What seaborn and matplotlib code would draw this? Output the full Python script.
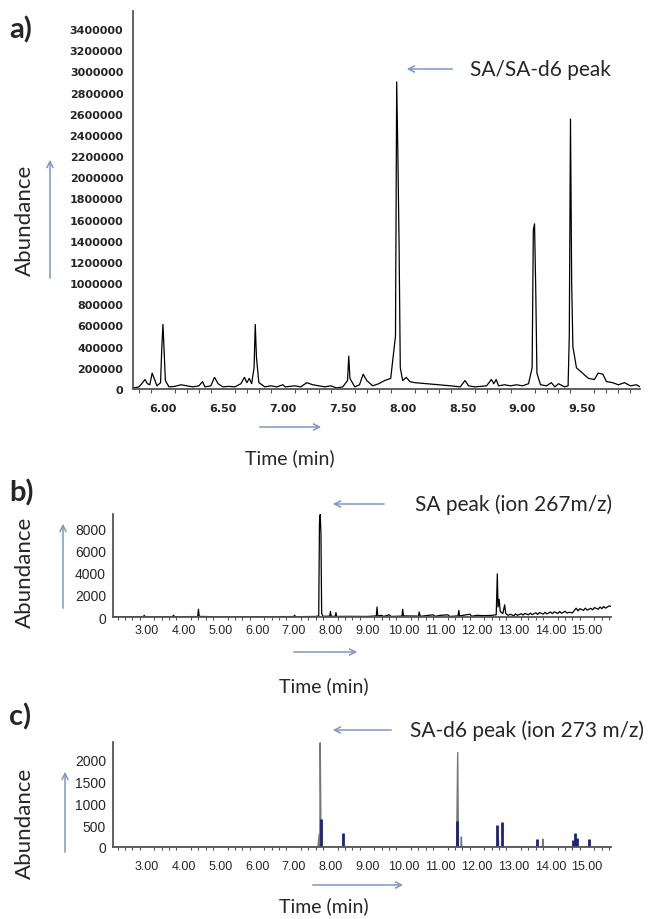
import numpy as np
import pandas as pd
import matplotlib
matplotlib.use("Agg")
import matplotlib.pyplot as plt
from matplotlib.patches import FancyArrowPatch
from matplotlib.ticker import MultipleLocator, FormatStrFormatter
import seaborn as sns

# ---- panel a: total ion chromatogram (time min, abundance) ----
a_time = [5.75, 5.80, 5.83, 5.85, 5.87, 5.89, 5.91, 5.93, 5.95, 5.98, 5.99, 6.00, 6.01, 6.02,
          6.05, 6.10, 6.15, 6.20, 6.25, 6.30, 6.33, 6.35, 6.40, 6.43, 6.46, 6.50, 6.55, 6.60,
          6.65, 6.68, 6.70, 6.72, 6.74, 6.76, 6.77, 6.78, 6.80, 6.85, 6.90, 6.95, 7.00, 7.02,
          7.10, 7.15, 7.20, 7.25, 7.30, 7.35, 7.40, 7.45, 7.50, 7.54, 7.55, 7.56, 7.60, 7.64,
          7.67, 7.70, 7.75, 7.80, 7.85, 7.90, 7.94, 7.95, 7.96, 7.97, 7.98, 8.00, 8.03, 8.06,
          8.10, 8.20, 8.30, 8.40, 8.48, 8.52, 8.55, 8.60, 8.70, 8.74, 8.76, 8.78, 8.80, 8.85,
          8.90, 8.95, 9.00, 9.05, 9.08, 9.09, 9.10, 9.11, 9.12, 9.15, 9.20, 9.24, 9.27, 9.30,
          9.35, 9.38, 9.39, 9.40, 9.41, 9.42, 9.45, 9.50, 9.55, 9.60, 9.63, 9.67, 9.70, 9.75,
          9.80, 9.85, 9.90, 9.95, 9.98]
a_abund = [10, 20, 60, 90, 50, 40, 150, 90, 30, 60, 380, 610, 350, 80,
           20, 25, 40, 30, 20, 30, 70, 20, 30, 110, 50, 20, 25, 20,
           50, 110, 60, 100, 50, 200, 610, 300, 60, 20, 30, 20, 40, 20,
           30, 20, 60, 40, 30, 20, 30, 10, 20, 80, 310, 100, 20, 40,
           140, 80, 30, 50, 80, 100, 500, 2900, 2200, 1350, 200, 80, 110, 70,
           60, 50, 40, 30, 20, 80, 30, 20, 30, 90, 50, 90, 30, 40,
           30, 40, 30, 50, 200, 1500, 1560, 950, 150, 40, 30, 60, 20, 50,
           20, 30, 500, 2550, 1000, 400, 200, 150, 100, 90, 150, 140, 70, 60,
           40, 60, 30, 40, 20]
a_abund = [v * 1000 for v in a_abund]

# ---- panel b: SA, ion 267 m/z ----
b_time = [2.07, 2.50, 2.90, 2.92, 2.95, 3.50, 3.70, 3.72, 3.75, 4.38, 4.40, 4.42, 5.00, 6.00,
          7.00, 7.02, 7.05, 7.60, 7.68, 7.70, 7.72, 7.74, 7.76, 7.80, 7.98, 8.00, 8.02, 8.13,
          8.15, 8.17, 8.50, 9.00, 9.25, 9.27, 9.29, 9.40, 9.45, 9.60, 9.65, 9.95, 9.97, 9.99,
          10.40, 10.42, 10.45, 10.80, 10.85, 11.00, 11.20, 11.25, 11.48, 11.50, 11.52, 11.80,
          11.85, 12.00, 12.20, 12.40, 12.52, 12.55, 12.57, 12.60, 12.63, 12.70, 12.75, 12.78,
          12.85, 12.90, 13.00, 13.05, 13.10, 13.20, 13.25, 13.30, 13.40, 13.45, 13.50, 13.60,
          13.65, 13.70, 13.80, 13.85, 13.90, 14.00, 14.05, 14.10, 14.20, 14.25, 14.30, 14.40,
          14.45, 14.50, 14.60, 14.70, 14.75, 14.80, 14.90, 14.95, 15.00, 15.10, 15.15, 15.20,
          15.30, 15.35, 15.40, 15.45, 15.50, 15.60, 15.65]
b_abund = [30, 20, 30, 150, 20, 30, 40, 160, 30, 40, 700, 50, 20, 30,
           40, 160, 30, 50, 100, 8500, 9250, 7600, 300, 60, 80, 500, 60, 60,
           400, 50, 60, 50, 100, 900, 100, 150, 50, 200, 50, 80, 700, 100,
           80, 450, 60, 200, 60, 150, 200, 50, 100, 600, 100, 250,
           70, 150, 120, 150, 200, 3900, 900, 1600, 500, 300, 1100, 300,
           150, 250, 120, 280, 150, 300, 180, 320, 200, 350, 220, 380,
           230, 400, 260, 420, 280, 450, 300, 470, 320, 500, 330, 520,
           350, 420, 380, 800, 550, 750, 600, 800, 620, 780, 650, 850,
           700, 900, 750, 950, 800, 1000, 950]

# ---- panel c: SA-d6, ion 273 m/z (grey trace + blue qualifier bars) ----
c_time = [2.07, 7.66, 7.69, 7.70, 7.71, 7.72, 7.74, 7.76, 11.44, 11.47, 11.49, 11.56, 11.57,
          11.58, 12.55, 12.57, 12.59, 13.78, 13.79, 13.80, 15.65]
c_abund = [0, 0, 280, 0, 0, 2380, 400, 0, 0, 2160, 0, 0, 230,
           0, 0, 300, 0, 0, 180, 0, 0]
c_bar_time = [7.75, 8.33, 11.44, 12.53, 12.67, 13.62, 14.62, 14.66, 14.72, 15.04]
c_bar_abund = [650, 320, 590, 500, 570, 180, 150, 330, 200, 190]

LABELS = ["a)", "b)", "c)"]
NOTES = ["SA/SA-d6 peak", "SA peak (ion 267m/z)", "SA-d6 peak (ion 273 m/z)"]

W, H = 651, 920
ARROW = "#7d98c4"
SPINE = "#555555"
TXT = ["Lato", "DejaVu Sans"]


def fx(px):
    return px / W


def fy(py):
    return 1 - py / H


def add_axes(fig, left, top, right, bottom):
    return fig.add_axes([fx(left), fy(bottom), (right - left) / W, (bottom - top) / H])


def arrow(fig, x0, y0, x1, y1):
    fig.add_artist(FancyArrowPatch((fx(x0), fy(y0)), (fx(x1), fy(y1)),
                                   transform=fig.transFigure, arrowstyle="->",
                                   mutation_scale=11, color=ARROW, lw=1.1))


def style(ax):
    sns.despine(ax=ax)
    for s in ["left", "bottom"]:
        ax.spines[s].set_color(SPINE)
        ax.spines[s].set_linewidth(1.3)
    ax.set_xlabel("")
    ax.set_ylabel("")


sns.set_style("white")
plt.rcParams["font.family"] = ["Liberation Sans", "DejaVu Sans"]

fig = plt.figure(figsize=(W / 100, H / 100), dpi=100)

# ---------- a ----------
ax_a = add_axes(fig, 133, 12, 640, 390)
df_a = pd.DataFrame({"t": a_time, "y": a_abund})
sns.lineplot(data=df_a, x="t", y="y", ax=ax_a, color="black", lw=0.9, sort=False, estimator=None)
ax_a.set_xlim(5.75, 9.98)
ax_a.set_ylim(0, 3.57e6)
ax_a.xaxis.set_major_locator(MultipleLocator(0.5))
ax_a.xaxis.set_minor_locator(MultipleLocator(0.1))
ax_a.xaxis.set_major_formatter(FormatStrFormatter("%.2f"))
ax_a.yaxis.set_major_locator(MultipleLocator(200000))
ax_a.yaxis.set_major_formatter(FormatStrFormatter("%d"))
ax_a.tick_params(axis="x", which="major", length=5, width=1, color=SPINE, pad=5, labelsize=8)
ax_a.tick_params(axis="x", which="minor", length=3, width=0.8, color=SPINE, bottom=True)
ax_a.tick_params(axis="y", length=2, width=0.6, color="#bbbbbb", pad=5, labelsize=8)
for lab in ax_a.get_xticklabels() + ax_a.get_yticklabels():
    lab.set_family("DejaVu Sans")
    lab.set_fontweight("bold")
style(ax_a)

# ---------- b ----------
ax_b = add_axes(fig, 113, 515, 611, 618)
df_b = pd.DataFrame({"t": b_time, "y": b_abund})
sns.lineplot(data=df_b, x="t", y="y", ax=ax_b, color="black", lw=0.9, sort=False, estimator=None)
ax_b.set_ylim(0, 9300)
ax_b.yaxis.set_major_locator(MultipleLocator(2000))

# ---------- c ----------
ax_c = add_axes(fig, 113, 743, 611, 848)
df_c = pd.DataFrame({"t": c_time, "y": c_abund})
sns.lineplot(data=df_c, x="t", y="y", ax=ax_c, color="#777777", lw=1.0, sort=False, estimator=None)
ax_c.vlines(c_bar_time, 0, c_bar_abund, color="#1c237a", lw=2.0)
ax_c.set_ylim(0, 2400)
ax_c.yaxis.set_major_locator(MultipleLocator(500))

for ax, pad in [(ax_b, 1.5), (ax_c, 6)]:
    ax.set_xlim(2.07, 15.65)
    ax.xaxis.set_major_locator(MultipleLocator(1))
    ax.xaxis.set_minor_locator(MultipleLocator(0.2))
    ax.xaxis.set_major_formatter(FormatStrFormatter("%.2f"))
    ax.yaxis.set_major_formatter(FormatStrFormatter("%d"))
    ax.tick_params(axis="x", which="major", length=3.5, width=0.9, color=SPINE, pad=pad, labelsize=9)
    ax.tick_params(axis="x", which="minor", length=2.5, width=0.8, color=SPINE, bottom=True)
    ax.tick_params(axis="y", length=0, pad=5, labelsize=10)
    style(ax)

# ---------- annotations ----------
panel_lab_y = [30, 493, 717]
for lab, y in zip(LABELS, panel_lab_y):
    fig.text(fx(9), fy(y), lab, family=TXT, fontsize=21, fontweight="bold", va="center", ha="left")

note_pos = [(470, 70), (415, 505), (410, 731)]
for note, (x, y) in zip(NOTES, note_pos):
    fig.text(fx(x), fy(y), note, family=TXT, fontsize=15, va="center", ha="left")

arrow(fig, 455, 70, 404, 70)
arrow(fig, 387, 505, 330, 505)
arrow(fig, 394, 731, 330, 731)

abund_pos = [(25, 220), (25, 572), (25, 823)]
for x, y in abund_pos:
    fig.text(fx(x), fy(y), "Abundance", family=TXT, fontsize=16, rotation=90, va="center", ha="center")

arrow(fig, 50, 282, 50, 158)
arrow(fig, 63, 612, 63, 522)
arrow(fig, 65, 856, 65, 770)

time_lab = [(290, 458), (324, 686), (324, 906)]
for x, y in time_lab:
    fig.text(fx(x), fy(y), "Time (min)", family=TXT, fontsize=14, va="center", ha="center")

arrow(fig, 257, 428, 324, 428)
arrow(fig, 291, 653, 360, 653)
arrow(fig, 310, 886, 406, 886)

fig.savefig("out.png", dpi=100)
